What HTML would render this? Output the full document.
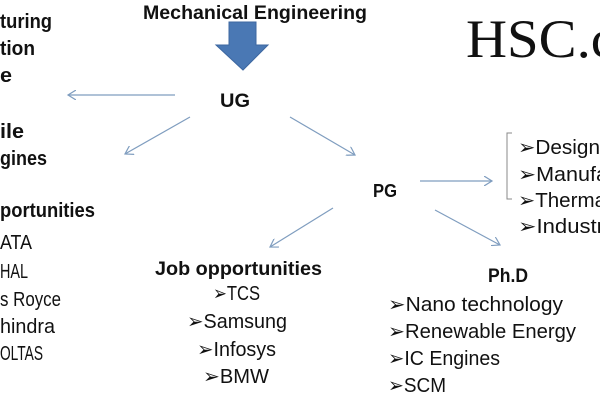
<!DOCTYPE html>
<html><head><meta charset="utf-8"><style>
html,body{margin:0;padding:0;background:#fff;width:600px;height:400px;overflow:hidden}
svg{display:block}
text{font-family:"Liberation Sans",sans-serif;fill:#111}
.b{font-weight:bold}
</style></head><body>
<svg width="600" height="400" viewBox="0 0 600 400" xmlns="http://www.w3.org/2000/svg">
<defs>
<marker id="ah" markerWidth="10" markerHeight="10" refX="8" refY="5" orient="auto" markerUnits="userSpaceOnUse">
<path d="M0,0 L8,5 L0,10" fill="none" stroke="#7f9dbf" stroke-width="1.2"/>
</marker>
</defs>
<text class="b" x="143" y="19" font-size="19" textLength="224" lengthAdjust="spacingAndGlyphs">Mechanical Engineering</text>
<polygon points="229,22 256,22 256,45 268,45 243,70 216,45 229,45" fill="#4a78b4" stroke="#3d67a0" stroke-width="1"/>
<text class="b" x="220" y="107" font-size="19" textLength="30" lengthAdjust="spacingAndGlyphs">UG</text>
<text class="b" x="373" y="197" font-size="18" textLength="24" lengthAdjust="spacingAndGlyphs">PG</text>
<text x="466" y="57" font-size="54" textLength="150" lengthAdjust="spacingAndGlyphs" style="font-family:'Liberation Serif',serif">HSC.c</text>
<g stroke="#7f9dbf" stroke-width="1.2" fill="none" marker-end="url(#ah)">
<line x1="175" y1="95" x2="68" y2="95"/>
<line x1="190" y1="117" x2="125" y2="154"/>
<line x1="290" y1="117" x2="355" y2="155"/>
<line x1="420" y1="181" x2="492" y2="181"/>
<line x1="435" y1="210" x2="500" y2="245"/>
<line x1="333" y1="208" x2="270" y2="247"/>
</g>
<path d="M512,133 L507,133 L507,199 L512,199" stroke="#888" stroke-width="1" fill="none"/>
<text class="b" x="0" y="28" font-size="20" textLength="52" lengthAdjust="spacingAndGlyphs">turing</text>
<text class="b" x="0" y="55" font-size="20" textLength="35" lengthAdjust="spacingAndGlyphs">tion</text>
<text class="b" x="0" y="82" font-size="20" textLength="12" lengthAdjust="spacingAndGlyphs">e</text>
<text class="b" x="0" y="138" font-size="20" textLength="24" lengthAdjust="spacingAndGlyphs">ile</text>
<text class="b" x="0" y="165" font-size="20" textLength="47" lengthAdjust="spacingAndGlyphs">gines</text>
<text class="b" x="0" y="217" font-size="20" textLength="95" lengthAdjust="spacingAndGlyphs">portunities</text>
<g font-size="20">
<text x="0" y="249" textLength="32" lengthAdjust="spacingAndGlyphs">ATA</text>
<text x="0" y="278" textLength="28" lengthAdjust="spacingAndGlyphs">HAL</text>
<text x="0" y="306" textLength="61" lengthAdjust="spacingAndGlyphs">s Royce</text>
<text x="0" y="333" textLength="55" lengthAdjust="spacingAndGlyphs">hindra</text>
<text x="0" y="360" textLength="43" lengthAdjust="spacingAndGlyphs">OLTAS</text>
</g>
<text class="b" x="155" y="275" font-size="19" textLength="167" lengthAdjust="spacingAndGlyphs">Job opportunities</text>
<g font-size="20">
<text x="213" y="300" textLength="47" lengthAdjust="spacingAndGlyphs">➢TCS</text>
<text x="187" y="328" textLength="100" lengthAdjust="spacingAndGlyphs">➢Samsung</text>
<text x="197" y="356" textLength="79" lengthAdjust="spacingAndGlyphs">➢Infosys</text>
<text x="203" y="383" textLength="66" lengthAdjust="spacingAndGlyphs">➢BMW</text>
</g>
<text class="b" x="488" y="282" font-size="19" textLength="40" lengthAdjust="spacingAndGlyphs">Ph.D</text>
<g font-size="20">
<text x="388" y="311" textLength="175" lengthAdjust="spacingAndGlyphs">➢Nano technology</text>
<text x="388" y="338" textLength="188" lengthAdjust="spacingAndGlyphs">➢Renewable Energy</text>
<text x="388" y="365" textLength="112" lengthAdjust="spacingAndGlyphs">➢IC Engines</text>
<text x="388" y="392" textLength="58" lengthAdjust="spacingAndGlyphs">➢SCM</text>
</g>
<g font-size="20">
<text x="518" y="154" textLength="82" lengthAdjust="spacingAndGlyphs">➢Design</text>
<text x="518" y="181" textLength="90" lengthAdjust="spacingAndGlyphs">➢Manufa</text>
<text x="518" y="207" textLength="88" lengthAdjust="spacingAndGlyphs">➢Therma</text>
<text x="518" y="233" textLength="86" lengthAdjust="spacingAndGlyphs">➢Industr</text>
</g>
</svg>
</body></html>
